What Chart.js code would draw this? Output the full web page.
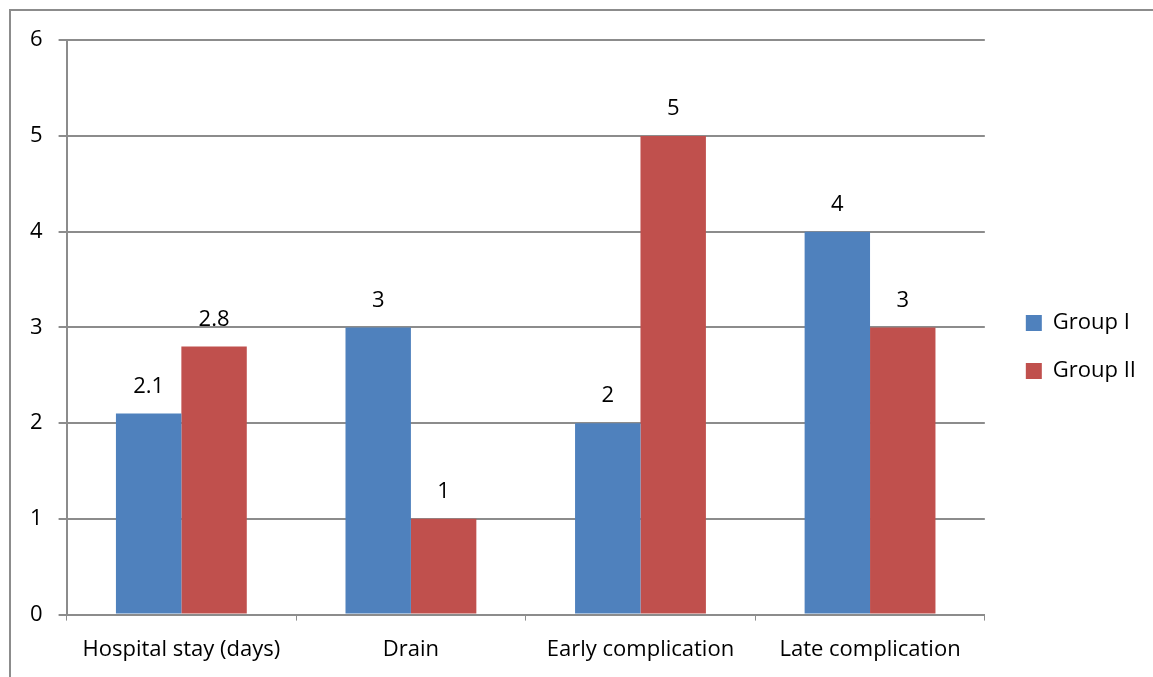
<!doctype html>
<html lang="en">
<head>
  <meta charset="utf-8">
  <title>Group I vs Group II</title>
  <script src="https://cdn.jsdelivr.net/npm/chart.js/dist/chart.umd.min.js"></script>
  <style>
    * { margin: 0; padding: 0; }
    body { width: 1153px; height: 677px; background: #fff; overflow: hidden; position: relative; }
    .frame {
      position: absolute; left: 9px; top: 9px; width: 1150px; height: 680px;
      border-left: 2px solid #8c8c8c; border-top: 2px solid #8c8c8c;
    }
    .chartBox { position: absolute; left: 11px; top: 11px; width: 1142px; height: 676px; }
  </style>
</head>
<body>
<div class="frame"></div>
<div class="chartBox"><canvas id="myChart"></canvas></div>

<script>
// data
const categories = ['Hospital stay (days)', 'Drain', 'Early complication', 'Late complication'];
const groupI = [2.1, 3, 2, 4];
const groupII = [2.8, 1, 5, 3];
const yTicks = [0, 1, 2, 3, 4, 5, 6];

const gridGray = '#8c8c8c';
const font = { family: "'Open Sans', sans-serif", size: 22 };

// value labels above the bars
const barLabels = {
  id: 'barLabels',
  afterDatasetsDraw(chart) {
    const ctx = chart.ctx;
    ctx.save();
    ctx.font = "22px 'Open Sans', sans-serif";
    ctx.fillStyle = '#000';
    ctx.textAlign = 'center';
    ctx.textBaseline = 'middle';
    chart.data.datasets.forEach((ds, i) => {
      chart.getDatasetMeta(i).data.forEach((bar, j) => {
        ctx.fillText(String(ds.data[j]), bar.x, bar.y - 27);
      });
    });
    ctx.restore();
  }
};

// push the legend a bit away from the plot, like the original
const legendGap = {
  id: 'legendGap',
  afterLayout(chart) {
    const lg = chart.legend;
    lg.left += 15; lg.right += 15;
    lg.top -= 5; lg.bottom -= 5;
  }
};

const myChart = new Chart(document.getElementById('myChart'), {
  type: 'bar',
  data: {
    labels: categories,
    datasets: [
      { label: 'Group I', data: groupI, backgroundColor: '#4f81bd' },
      { label: 'Group II', data: groupII, backgroundColor: '#c0504d' }
    ]
  },
  options: {
    responsive: true,
    maintainAspectRatio: false,
    animation: false,
    layout: { padding: { top: 14, right: 22, left: 3, bottom: 8 } },
    datasets: { bar: { barPercentage: 1, categoryPercentage: 0.57 } },
    scales: {
      x: {
        grid: { drawOnChartArea: false, color: gridGray, tickLength: 6 },
        border: { color: gridGray, width: 2 },
        ticks: { color: '#000', font: font, padding: 16 }
      },
      y: {
        min: 0, max: 6,
        afterBuildTicks: (axis) => { axis.ticks = yTicks.map(v => ({ value: v })); },
        grid: { color: gridGray, lineWidth: 2, tickLength: 8 },
        border: { color: gridGray, width: 2 },
        ticks: { color: '#000', font: font, padding: 16 }
      }
    },
    plugins: {
      tooltip: { enabled: false },
      legend: {
        position: 'right',
        labels: { color: '#000', font: font, boxWidth: 16, boxHeight: 16, padding: 26 }
      }
    }
  },
  plugins: [barLabels, legendGap]
});
</script>
</body>
</html>
